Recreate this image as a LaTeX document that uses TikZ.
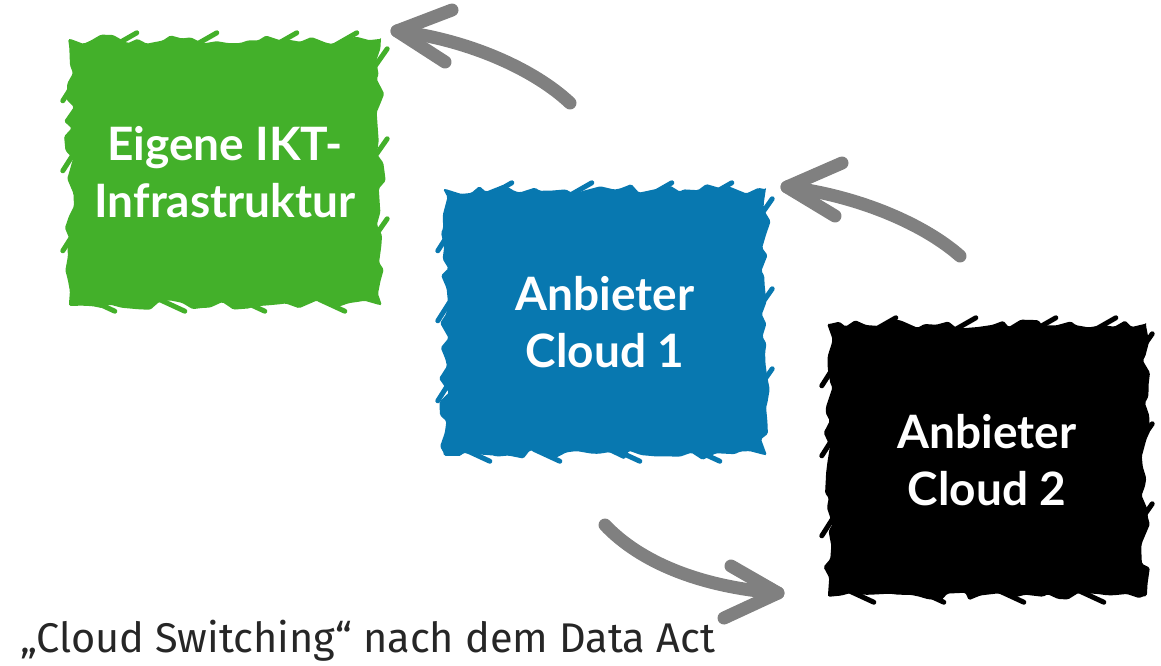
\documentclass[tikz,border=0pt]{standalone}
\usepackage{fontspec}
\setmainfont{Lato}
\newfontfamily\capfont{Fira Sans}
\usetikzlibrary{decorations.pathmorphing,calc}
\definecolor{ggreen}{HTML}{43B02A}
\definecolor{gblue}{HTML}{0878B0}
\definecolor{ggray}{HTML}{808080}
\begin{document}
\begin{tikzpicture}[x=1pt,y=-1pt,
  scribble/.style={decorate,decoration={random steps,segment length=11pt,amplitude=5pt},
    rounded corners=1.5pt,text=white,align=center,inner sep=0pt,
    font=\bfseries\fontsize{46}{57}\selectfont},
  stroke/.style={line width=5pt,line cap=round},
  sketcharrow/.style={draw=ggray,line width=13pt,line cap=round,line join=round}]
\pgfmathsetseed{7}
\useasboundingbox (0,0) rectangle (1161,665);
\node[scribble,fill=ggreen,minimum width=312pt,minimum height=266pt] (infra) at (225,172) {Eigene IKT-\\Infrastruktur};
\node[scribble,fill=gblue,minimum width=322pt,minimum height=266pt] (c1) at (605,322) {Anbieter\\Cloud 1};
\node[scribble,fill=black,minimum width=318pt,minimum height=272pt] (c2) at (987,460) {Anbieter\\Cloud 2};
% marker strokes sticking out of the boxes
\foreach \n/\c in {infra/ggreen,c1/gblue,c2/black}{
  \foreach \dx in {40,120,200,260}
    \draw[stroke,draw=\c] ($(\n.north west)+(\dx,10)$) -- ++(28,-16);
  \foreach \dx in {20,90,170,250}
    \draw[stroke,draw=\c] ($(\n.south west)+(\dx,-6)$) -- ++(26,12);
  \foreach \dy in {40,110,190}
    \draw[stroke,draw=\c] ($(\n.north west)+(8,\dy)$) -- ++(-14,22);
  \foreach \dy in {30,120,200}
    \draw[stroke,draw=\c] ($(\n.north east)+(-8,\dy)$) -- ++(14,-20);
}
\node[anchor=base west,inner sep=0pt,font=\capfont\fontsize{41.5}{44}\selectfont,text=black!85] (cap) at (20,652) {„Cloud Switching“ nach dem Data Act};
% arrow 1
\coordinate (a1s) at (570,103);
\coordinate (a1t) at (397,31);
\coordinate (a1u) at (452,10);
\coordinate (a1l) at (445,62);
\draw[sketcharrow] (a1s) .. controls (535,70) and (470,40) .. (a1t);
\draw[sketcharrow] (a1u) -- (a1t) -- (a1l);
% arrow 2
\coordinate (a2s) at (960,256);
\coordinate (a2t) at (787,187);
\coordinate (a2u) at (842,163);
\coordinate (a2l) at (835,216);
\draw[sketcharrow] (a2s) .. controls (925,225) and (860,196) .. (a2t);
\draw[sketcharrow] (a2u) -- (a2t) -- (a2l);
% arrow 3
\coordinate (a3s) at (605,525);
\coordinate (a3t) at (778,593);
\coordinate (a3u) at (731,566);
\coordinate (a3l) at (724,618);
\draw[sketcharrow] (a3s) .. controls (640,562) and (700,587) .. (a3t);
\draw[sketcharrow] (a3u) -- (a3t) -- (a3l);
\end{tikzpicture}
\end{document}
